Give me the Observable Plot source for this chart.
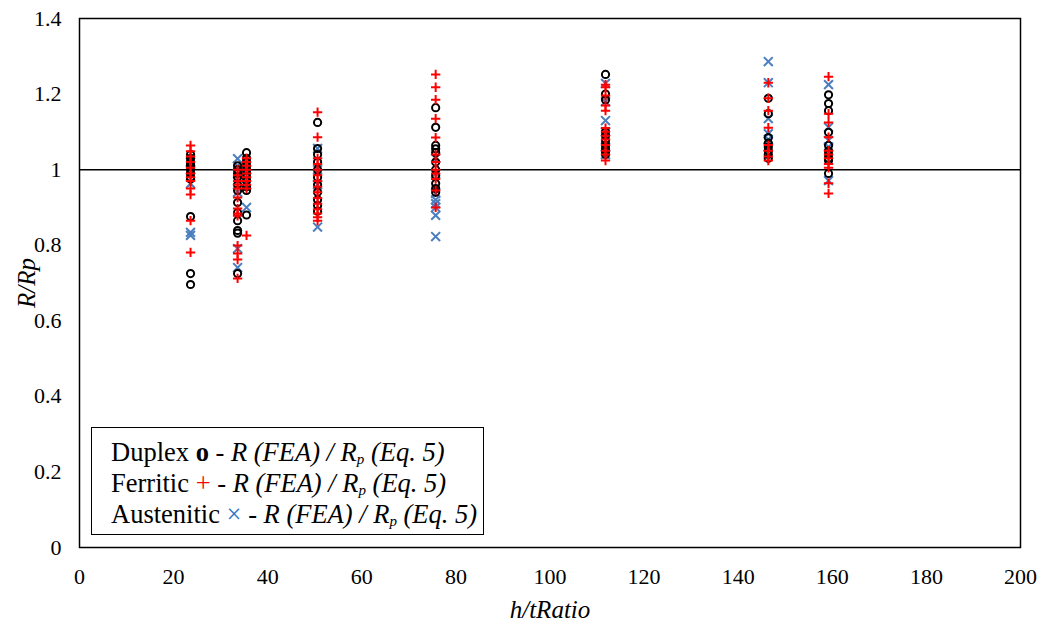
<!DOCTYPE html>
<html>
<head>
<meta charset="utf-8">
<script src="https://cdn.jsdelivr.net/npm/d3@7"></script>
<script src="https://cdn.jsdelivr.net/npm/@observablehq/plot@0.6"></script>
<style>
  html, body { margin: 0; padding: 0; background: #fff; }
  #wrap { position: relative; width: 1043px; height: 632px; font-family: "Liberation Serif", "Times New Roman", serif; }
  #wrap svg g[aria-label="x-axis label"] text,
  #wrap svg g[aria-label="y-axis label"] text { font-style: italic; font-size: 25px; }
  #legend {
    position: absolute; left: 91px; top: 427px; width: 393px; height: 108px;
    border: 1.5px solid #000; background: #fff; box-sizing: border-box;
    font-size: 26.5px; line-height: 31px; padding: 9px 0 0 19px; color: #000; white-space: nowrap;
  }
  #legend > div { height: 31px; overflow: visible; }
  #legend i sub { font-size: 15px; line-height: 0; vertical-align: -3px; }
</style>
</head>
<body>
<div id="wrap"></div>
<script>
// h/t ratio of each group of specimens
const hOverT = [23.6, 33.6, 35.5, 50.6, 75.7, 111.8, 146.4, 159.2];

// R(FEA)/Rp values per group
const duplex = [
  [1.04, 1.03, 1.02, 1.015, 1.01, 1.0, 0.99, 0.98, 0.975, 0.876, 0.725, 0.696],
  [1.01, 1.0, 0.99, 0.98, 0.96, 0.945, 0.913, 0.886, 0.865, 0.839, 0.832, 0.725],
  [1.045, 1.03, 1.02, 1.01, 1.0, 0.99, 0.98, 0.97, 0.955, 0.945, 0.88],
  [1.125, 1.056, 1.04, 1.02, 1.0, 0.98, 0.96, 0.94, 0.92, 0.905, 0.89],
  [1.164, 1.112, 1.064, 1.055, 1.045, 1.02, 1.0, 0.985, 0.963, 0.95, 0.94],
  [1.252, 1.2, 1.185, 1.1, 1.09, 1.077, 1.065, 1.055, 1.048, 1.04],
  [1.189, 1.148, 1.085, 1.07, 1.06, 1.05, 1.04, 1.03],
  [1.198, 1.175, 1.156, 1.099, 1.064, 1.05, 1.04, 1.03, 1.024, 0.99]
];
const ferritic = [
  [1.064, 1.049, 1.035, 1.02, 1.005, 0.99, 0.98, 0.97, 0.95, 0.934, 0.865, 0.781],
  [1.0, 0.985, 0.97, 0.96, 0.95, 0.926, 0.897, 0.884, 0.878, 0.799, 0.778, 0.762, 0.712],
  [1.03, 1.02, 1.01, 1.0, 0.99, 0.98, 0.97, 0.96, 0.95, 0.826],
  [1.152, 1.086, 1.03, 1.015, 1.0, 0.985, 0.97, 0.955, 0.94, 0.925, 0.91, 0.895, 0.884, 0.874, 0.865],
  [1.252, 1.218, 1.185, 1.135, 1.085, 1.04, 1.02, 1.0, 0.99, 0.975, 0.945, 0.9],
  [1.225, 1.218, 1.196, 1.17, 1.156, 1.11, 1.1, 1.09, 1.08, 1.065, 1.05, 1.04, 1.024],
  [1.23, 1.189, 1.156, 1.111, 1.065, 1.05, 1.035, 1.024],
  [1.246, 1.148, 1.125, 1.086, 1.05, 1.04, 1.03, 1.015, 1.005, 0.964, 0.937]
];
const austenitic = [
  [1.02, 1.0, 0.963, 0.834, 0.826],
  [1.029, 1.01, 0.97, 0.94, 0.791, 0.741],
  [1.0, 0.96, 0.9],
  [1.056, 1.0, 0.96, 0.848],
  [1.03, 0.99, 0.937, 0.92, 0.91, 0.9, 0.879, 0.823],
  [1.228, 1.18, 1.13, 1.1, 1.06, 1.04],
  [1.286, 1.23, 1.135, 1.095, 1.08, 1.06],
  [1.225, 1.112, 1.077, 1.06, 0.971]
];

const xTicks = [0, 20, 40, 60, 80, 100, 120, 140, 160, 180, 200];
const yTicks = [0, 0.2, 0.4, 0.6, 0.8, 1.0, 1.2, 1.4];

const flat = (groups) => groups.flatMap((vals, i) => vals.map(v => ({x: hOverT[i], y: v})));
const dDup = flat(duplex), dFer = flat(ferritic), dAus = flat(austenitic);

const chart = Plot.plot({
  width: 1043,
  height: 632,
  marginLeft: 79,
  marginRight: 23,
  marginTop: 18,
  marginBottom: 85,
  style: {fontFamily: "Liberation Serif, Times New Roman, serif", fontSize: "22px", background: "#fff", color: "#000"},
  x: {domain: [0, 200]},
  y: {domain: [0, 1.4]},
  marks: [
    Plot.axisX({ticks: xTicks, tickSize: 0, tickPadding: 21, label: "h/tRatio", labelAnchor: "center", labelOffset: 70, labelArrow: "none"}),
    Plot.axisY({ticks: yTicks, tickSize: 0, tickPadding: 18, tickFormat: d => `${+d.toFixed(1)}`, label: "R/Rp", labelAnchor: "center", labelOffset: 62, labelArrow: "none"}),
    Plot.ruleY([1], {stroke: "#000", strokeWidth: 1.5}),
    Plot.dot(dAus, {x: "x", y: "y", symbol: "times", r: 4.1, stroke: "#4a7ebf", strokeWidth: 2, fill: "none"}),
    Plot.dot(dDup, {x: "x", y: "y", symbol: "circle", r: 3.6, stroke: "#000", strokeWidth: 2, fill: "none"}),
    Plot.dot(dFer, {x: "x", y: "y", symbol: "plus", r: 3.1, stroke: "#ff0000", strokeWidth: 2}),
    Plot.frame({stroke: "#000", strokeWidth: 1.5})
  ]
});

const wrap = document.getElementById("wrap");
wrap.appendChild(chart);

const legend = document.createElement("div");
legend.id = "legend";
legend.innerHTML =
  `<div>Duplex <b>o</b> - <i>R (FEA) / R<sub>p</sub> (Eq. 5)</i></div>` +
  `<div>Ferritic <span style="color:#ff0000">+</span> - <i>R (FEA) / R<sub>p</sub> (Eq. 5)</i></div>` +
  `<div>Austenitic <span style="color:#2f75c8">×</span> - <i>R (FEA) / R<sub>p</sub> (Eq. 5)</i></div>`;
wrap.appendChild(legend);
</script>
</body>
</html>
